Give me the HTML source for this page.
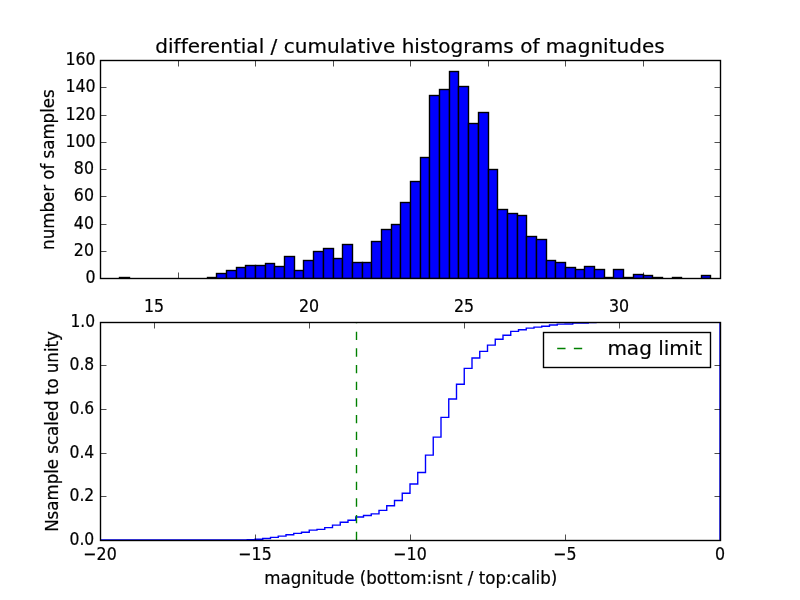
<!DOCTYPE html>
<html><head><meta charset="utf-8"><title>differential / cumulative histograms of magnitudes</title>
<style>html,body{margin:0;padding:0;background:#fff;}svg{display:block;}text{font-family:"DejaVu Sans", "Liberation Sans", sans-serif;fill:#000;}</style></head><body>
<svg width="800" height="600" viewBox="0 0 800 600">
<rect x="0" y="0" width="800" height="600" fill="#fff"/>
<defs><clipPath id="cp1"><rect x="100" y="60" width="620" height="218"/></clipPath></defs>
<g clip-path="url(#cp1)" stroke="#000" stroke-width="1.389" fill="#0000ff">
<rect x="119.5" y="277.5" width="10" height="1"/>
<rect x="207.5" y="277.5" width="9" height="1"/>
<rect x="216.5" y="273.5" width="10" height="5"/>
<rect x="226.5" y="270.5" width="10" height="8"/>
<rect x="236.5" y="267.5" width="9" height="11"/>
<rect x="245.5" y="265.5" width="10" height="13"/>
<rect x="255.5" y="265.5" width="10" height="13"/>
<rect x="265.5" y="263.5" width="9" height="15"/>
<rect x="274.5" y="266.5" width="10" height="12"/>
<rect x="284.5" y="256.5" width="10" height="22"/>
<rect x="294.5" y="270.5" width="9" height="8"/>
<rect x="303.5" y="260.5" width="10" height="18"/>
<rect x="313.5" y="251.5" width="10" height="27"/>
<rect x="323.5" y="248.5" width="10" height="30"/>
<rect x="333.5" y="258.5" width="9" height="20"/>
<rect x="342.5" y="244.5" width="10" height="34"/>
<rect x="352.5" y="262.5" width="10" height="16"/>
<rect x="362.5" y="262.5" width="9" height="16"/>
<rect x="371.5" y="241.5" width="10" height="37"/>
<rect x="381.5" y="229.5" width="10" height="49"/>
<rect x="391.5" y="224.5" width="9" height="54"/>
<rect x="400.5" y="202.5" width="10" height="76"/>
<rect x="410.5" y="181.5" width="10" height="97"/>
<rect x="420.5" y="157.5" width="9" height="121"/>
<rect x="429.5" y="95.5" width="10" height="183"/>
<rect x="439.5" y="89.5" width="10" height="189"/>
<rect x="449.5" y="71.5" width="9" height="207"/>
<rect x="458.5" y="86.5" width="10" height="192"/>
<rect x="468.5" y="123.5" width="10" height="155"/>
<rect x="478.5" y="112.5" width="10" height="166"/>
<rect x="488.5" y="169.5" width="9" height="109"/>
<rect x="497.5" y="209.5" width="10" height="69"/>
<rect x="507.5" y="213.5" width="10" height="65"/>
<rect x="517.5" y="215.5" width="9" height="63"/>
<rect x="526.5" y="236.5" width="10" height="42"/>
<rect x="536.5" y="239.5" width="10" height="39"/>
<rect x="546.5" y="260.5" width="9" height="18"/>
<rect x="555.5" y="262.5" width="10" height="16"/>
<rect x="565.5" y="267.5" width="10" height="11"/>
<rect x="575.5" y="269.5" width="9" height="9"/>
<rect x="584.5" y="266.5" width="10" height="12"/>
<rect x="594.5" y="269.5" width="10" height="9"/>
<rect x="604.5" y="277.5" width="9" height="1"/>
<rect x="613.5" y="269.5" width="10" height="9"/>
<rect x="623.5" y="277.5" width="10" height="1"/>
<rect x="633.5" y="274.5" width="10" height="4"/>
<rect x="643.5" y="275.5" width="9" height="3"/>
<rect x="652.5" y="277.5" width="10" height="1"/>
<rect x="672.5" y="277.5" width="9" height="1"/>
<rect x="701.5" y="275.5" width="9" height="3"/>
</g>
<g stroke="#000" stroke-width="1.389" fill="none">
<rect x="100.5" y="60.5" width="620" height="218"/>
<line stroke-width="0.694" x1="178.5" y1="272.5" x2="178.5" y2="278"/>
<line stroke-width="0.694" x1="255.5" y1="272.5" x2="255.5" y2="278"/>
<line stroke-width="0.694" x1="333.5" y1="272.5" x2="333.5" y2="278"/>
<line stroke-width="0.694" x1="410.5" y1="272.5" x2="410.5" y2="278"/>
<line stroke-width="0.694" x1="488.5" y1="272.5" x2="488.5" y2="278"/>
<line stroke-width="0.694" x1="565.5" y1="272.5" x2="565.5" y2="278"/>
<line stroke-width="0.694" x1="643.5" y1="272.5" x2="643.5" y2="278"/>
<line stroke-width="0.694" x1="178.5" y1="61" x2="178.5" y2="66.5"/>
<line stroke-width="0.694" x1="255.5" y1="61" x2="255.5" y2="66.5"/>
<line stroke-width="0.694" x1="333.5" y1="61" x2="333.5" y2="66.5"/>
<line stroke-width="0.694" x1="410.5" y1="61" x2="410.5" y2="66.5"/>
<line stroke-width="0.694" x1="488.5" y1="61" x2="488.5" y2="66.5"/>
<line stroke-width="0.694" x1="565.5" y1="61" x2="565.5" y2="66.5"/>
<line stroke-width="0.694" x1="643.5" y1="61" x2="643.5" y2="66.5"/>
<line stroke-width="0.694" x1="101" y1="278.5" x2="106.5" y2="278.5"/>
<line stroke-width="0.694" x1="714.5" y1="278.5" x2="720" y2="278.5"/>
<line stroke-width="0.694" x1="101" y1="251.5" x2="106.5" y2="251.5"/>
<line stroke-width="0.694" x1="714.5" y1="251.5" x2="720" y2="251.5"/>
<line stroke-width="0.694" x1="101" y1="224.5" x2="106.5" y2="224.5"/>
<line stroke-width="0.694" x1="714.5" y1="224.5" x2="720" y2="224.5"/>
<line stroke-width="0.694" x1="101" y1="196.5" x2="106.5" y2="196.5"/>
<line stroke-width="0.694" x1="714.5" y1="196.5" x2="720" y2="196.5"/>
<line stroke-width="0.694" x1="101" y1="169.5" x2="106.5" y2="169.5"/>
<line stroke-width="0.694" x1="714.5" y1="169.5" x2="720" y2="169.5"/>
<line stroke-width="0.694" x1="101" y1="142.5" x2="106.5" y2="142.5"/>
<line stroke-width="0.694" x1="714.5" y1="142.5" x2="720" y2="142.5"/>
<line stroke-width="0.694" x1="101" y1="115.5" x2="106.5" y2="115.5"/>
<line stroke-width="0.694" x1="714.5" y1="115.5" x2="720" y2="115.5"/>
<line stroke-width="0.694" x1="101" y1="87.5" x2="106.5" y2="87.5"/>
<line stroke-width="0.694" x1="714.5" y1="87.5" x2="720" y2="87.5"/>
<line stroke-width="0.694" x1="101" y1="60.5" x2="106.5" y2="60.5"/>
<line stroke-width="0.694" x1="714.5" y1="60.5" x2="720" y2="60.5"/>
</g>
<defs><clipPath id="cp2"><rect x="100" y="322" width="620" height="218"/></clipPath></defs>
<g clip-path="url(#cp2)">
<path d="M100.00 540.00 L177.50 540.00 L177.50 539.87 L185.25 539.87 L185.25 539.87 L193.00 539.87 L193.00 539.87 L200.75 539.87 L200.75 539.87 L208.50 539.87 L208.50 539.87 L216.25 539.87 L216.25 539.87 L224.00 539.87 L224.00 539.87 L231.75 539.87 L231.75 539.87 L239.50 539.87 L239.50 539.87 L247.25 539.87 L247.25 539.74 L255.00 539.74 L255.00 539.22 L262.75 539.22 L262.75 538.44 L270.50 538.44 L270.50 537.40 L278.25 537.40 L278.25 536.11 L286.00 536.11 L286.00 534.81 L293.75 534.81 L293.75 533.38 L301.50 533.38 L301.50 532.21 L309.25 532.21 L309.25 530.14 L317.00 530.14 L317.00 529.36 L324.75 529.36 L324.75 527.67 L332.50 527.67 L332.50 525.07 L340.25 525.07 L340.25 522.22 L348.00 522.22 L348.00 520.27 L355.75 520.27 L355.75 517.03 L363.50 517.03 L363.50 515.47 L371.25 515.47 L371.25 513.91 L379.00 513.91 L379.00 510.41 L386.75 510.41 L386.75 505.73 L394.50 505.73 L394.50 500.54 L402.25 500.54 L402.25 493.27 L410.00 493.27 L410.00 484.06 L417.75 484.06 L417.75 472.51 L425.50 472.51 L425.50 455.12 L433.25 455.12 L433.25 437.08 L441.00 437.08 L441.00 417.35 L448.75 417.35 L448.75 399.05 L456.50 399.05 L456.50 384.25 L464.25 384.25 L464.25 368.42 L472.00 368.42 L472.00 358.03 L479.75 358.03 L479.75 351.41 L487.50 351.41 L487.50 345.18 L495.25 345.18 L495.25 339.21 L503.00 339.21 L503.00 335.19 L510.75 335.19 L510.75 331.42 L518.50 331.42 L518.50 329.74 L526.25 329.74 L526.25 328.18 L534.00 328.18 L534.00 327.14 L541.75 327.14 L541.75 326.23 L549.50 326.23 L549.50 325.06 L557.25 325.06 L557.25 324.16 L565.00 324.16 L565.00 324.03 L572.75 324.03 L572.75 323.12 L580.50 323.12 L580.50 322.99 L588.25 322.99 L588.25 322.60 L596.00 322.60 L596.00 322.34 L603.75 322.34 L603.75 322.21 L611.50 322.21 L611.50 322.21 L619.25 322.21 L619.25 322.08 L627.00 322.08 L627.00 322.08 L634.75 322.08 L634.75 322.08 L642.50 322.08 L642.50 321.82 L720.00 321.82 L720.00 540.00" fill="none" stroke="#0000ff" stroke-width="1.389" stroke-linejoin="miter"/>
<line x1="356.5" y1="540" x2="356.5" y2="321.82" stroke="#008000" stroke-width="1.389" stroke-dasharray="8.333 8.333"/>
</g>
<g stroke="#000" stroke-width="1.389" fill="none">
<rect x="100.5" y="322.5" width="620" height="218"/>
<line stroke-width="0.694" x1="100.5" y1="534.5" x2="100.5" y2="540"/>
<line stroke-width="0.694" x1="255.5" y1="534.5" x2="255.5" y2="540"/>
<line stroke-width="0.694" x1="410.5" y1="534.5" x2="410.5" y2="540"/>
<line stroke-width="0.694" x1="565.5" y1="534.5" x2="565.5" y2="540"/>
<line stroke-width="0.694" x1="720.5" y1="534.5" x2="720.5" y2="540"/>
<line stroke-width="0.694" x1="154.5" y1="323" x2="154.5" y2="328.5"/>
<line stroke-width="0.694" x1="309.5" y1="323" x2="309.5" y2="328.5"/>
<line stroke-width="0.694" x1="464.5" y1="323" x2="464.5" y2="328.5"/>
<line stroke-width="0.694" x1="619.5" y1="323" x2="619.5" y2="328.5"/>
<line stroke-width="0.694" x1="101" y1="540.5" x2="106.5" y2="540.5"/>
<line stroke-width="0.694" x1="714.5" y1="540.5" x2="720" y2="540.5"/>
<line stroke-width="0.694" x1="101" y1="496.5" x2="106.5" y2="496.5"/>
<line stroke-width="0.694" x1="714.5" y1="496.5" x2="720" y2="496.5"/>
<line stroke-width="0.694" x1="101" y1="453.5" x2="106.5" y2="453.5"/>
<line stroke-width="0.694" x1="714.5" y1="453.5" x2="720" y2="453.5"/>
<line stroke-width="0.694" x1="101" y1="409.5" x2="106.5" y2="409.5"/>
<line stroke-width="0.694" x1="714.5" y1="409.5" x2="720" y2="409.5"/>
<line stroke-width="0.694" x1="101" y1="365.5" x2="106.5" y2="365.5"/>
<line stroke-width="0.694" x1="714.5" y1="365.5" x2="720" y2="365.5"/>
<line stroke-width="0.694" x1="101" y1="322.5" x2="106.5" y2="322.5"/>
<line stroke-width="0.694" x1="714.5" y1="322.5" x2="720" y2="322.5"/>
</g>
<g>
<rect x="543.5" y="332.5" width="167" height="35" fill="#fff" stroke="#000" stroke-width="1.389"/>
<line x1="557.2" y1="348.5" x2="588" y2="348.5" stroke="#008000" stroke-width="1.389" stroke-dasharray="8.333 8.333"/>
</g>
<text transform="translate(410.00,52.90)" font-size="20.00px" text-anchor="middle" letter-spacing="0.030" stroke="#000" stroke-width="0.20">differential / cumulative histograms of magnitudes</text>
<text transform="translate(95.70,283.18) scale(0.950,1.070)" font-size="16.67px" text-anchor="end" stroke="#000" stroke-width="0.20">0</text>
<text transform="translate(93.95,255.91) scale(0.950,1.070)" font-size="16.67px" text-anchor="end" stroke="#000" stroke-width="0.20">20</text>
<text transform="translate(93.95,228.63) scale(0.950,1.070)" font-size="16.67px" text-anchor="end" stroke="#000" stroke-width="0.20">40</text>
<text transform="translate(93.95,201.36) scale(0.950,1.070)" font-size="16.67px" text-anchor="end" stroke="#000" stroke-width="0.20">60</text>
<text transform="translate(93.95,174.09) scale(0.950,1.070)" font-size="16.67px" text-anchor="end" stroke="#000" stroke-width="0.20">80</text>
<text transform="translate(95.70,146.82) scale(0.950,1.070)" font-size="16.67px" text-anchor="end" stroke="#000" stroke-width="0.20">100</text>
<text transform="translate(95.70,119.55) scale(0.950,1.070)" font-size="16.67px" text-anchor="end" stroke="#000" stroke-width="0.20">120</text>
<text transform="translate(95.70,92.27) scale(0.950,1.070)" font-size="16.67px" text-anchor="end" stroke="#000" stroke-width="0.20">140</text>
<text transform="translate(95.70,65.00) scale(0.950,1.070)" font-size="16.67px" text-anchor="end" stroke="#000" stroke-width="0.20">160</text>
<text transform="translate(94.25,545.00) scale(0.935,1.070)" font-size="16.67px" text-anchor="end" stroke="#000" stroke-width="0.20">0.0</text>
<text transform="translate(94.25,501.36) scale(0.935,1.070)" font-size="16.67px" text-anchor="end" stroke="#000" stroke-width="0.20">0.2</text>
<text transform="translate(94.25,457.73) scale(0.935,1.070)" font-size="16.67px" text-anchor="end" stroke="#000" stroke-width="0.20">0.4</text>
<text transform="translate(94.25,414.09) scale(0.935,1.070)" font-size="16.67px" text-anchor="end" stroke="#000" stroke-width="0.20">0.6</text>
<text transform="translate(94.25,370.46) scale(0.935,1.070)" font-size="16.67px" text-anchor="end" stroke="#000" stroke-width="0.20">0.8</text>
<text transform="translate(95.15,326.82) scale(0.930,1.070)" font-size="16.67px" text-anchor="end" stroke="#000" stroke-width="0.20">1.0</text>
<text transform="translate(100.00,559.80) scale(0.950,1.070)" font-size="16.67px" text-anchor="middle" stroke="#000" stroke-width="0.20">−20</text>
<text transform="translate(255.00,559.80) scale(0.950,1.070)" font-size="16.67px" text-anchor="middle" stroke="#000" stroke-width="0.20">−15</text>
<text transform="translate(410.00,559.80) scale(0.950,1.070)" font-size="16.67px" text-anchor="middle" stroke="#000" stroke-width="0.20">−10</text>
<text transform="translate(565.00,559.80) scale(0.950,1.070)" font-size="16.67px" text-anchor="middle" stroke="#000" stroke-width="0.20">−5</text>
<text transform="translate(720.00,559.80) scale(0.950,1.070)" font-size="16.67px" text-anchor="middle" stroke="#000" stroke-width="0.20">0</text>
<text transform="translate(154.10,312.20) scale(0.950,1.070)" font-size="16.67px" text-anchor="middle" stroke="#000" stroke-width="0.20">15</text>
<text transform="translate(309.10,312.20) scale(0.950,1.070)" font-size="16.67px" text-anchor="middle" stroke="#000" stroke-width="0.20">20</text>
<text transform="translate(464.10,312.20) scale(0.950,1.070)" font-size="16.67px" text-anchor="middle" stroke="#000" stroke-width="0.20">25</text>
<text transform="translate(619.10,312.20) scale(0.950,1.070)" font-size="16.67px" text-anchor="middle" stroke="#000" stroke-width="0.20">30</text>
<text transform="translate(410.80,583.70) scale(1.000,1.070)" font-size="16.67px" text-anchor="middle" stroke="#000" stroke-width="0.20">magnitude (bottom:isnt / top:calib)</text>
<text transform="translate(53.90,169.60) rotate(-90) scale(1.000,1.070)" font-size="16.67px" text-anchor="middle" letter-spacing="-0.020" stroke="#000" stroke-width="0.20">number of samples</text>
<text transform="translate(58.00,431.50) rotate(-90) scale(1.000,1.070)" font-size="16.67px" text-anchor="middle" letter-spacing="-0.025" stroke="#000" stroke-width="0.20">Nsample scaled to unity</text>
<text x="607.4" y="354.9" font-size="20px" stroke="#000" stroke-width="0.20">mag limit</text>
</svg></body></html>
